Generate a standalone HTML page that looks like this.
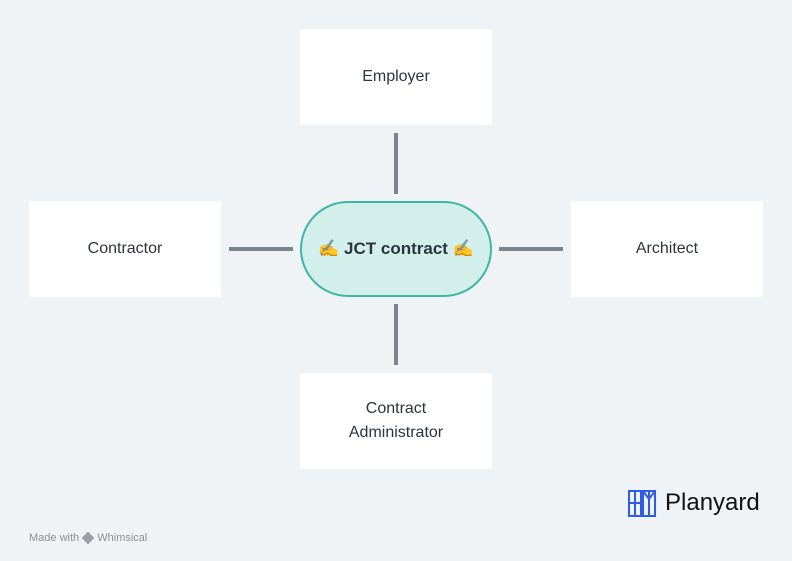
<!DOCTYPE html>
<html><head><style>
body{margin:0;width:792px;height:561px;background:#f0f3f6;position:relative;overflow:hidden;font-family:"Liberation Sans",sans-serif;color:#2c3440}
.box{position:absolute;background:#fff;display:flex;align-items:center;justify-content:center;text-align:center;font-size:16px;line-height:24px}
.l{position:absolute;background:#7a8591}
</style></head><body>
<div class="box" style="left:300px;top:29px;width:192px;height:96px">Employer</div>
<div class="box" style="left:29px;top:201px;width:192px;height:96px">Contractor</div>
<div class="box" style="left:571px;top:201px;width:192px;height:96px">Architect</div>
<div class="box" style="left:300px;top:373px;width:192px;height:96px">Contract<br>Administrator</div>
<div class="l" style="left:394px;top:133px;width:4px;height:61px"></div>
<div class="l" style="left:394px;top:304px;width:4px;height:61px"></div>
<div class="l" style="left:229px;top:247px;width:64px;height:4px"></div>
<div class="l" style="left:499px;top:247px;width:64px;height:4px"></div>
<div style="position:absolute;left:300px;top:201px;width:188px;height:92px;border:2px solid #3fb5a3;border-radius:48px;background:#d3efeb;display:flex;align-items:center;justify-content:center;font-weight:bold;font-size:17px;color:#2c3440">✍️ JCT contract ✍️</div>
<svg style="position:absolute;left:628px;top:490px" width="30" height="28" viewBox="0 0 30 28"><g fill="none" stroke="#2f5be8" stroke-width="2"><rect x="1" y="1" width="12" height="25"/><line x1="7" y1="1" x2="7" y2="26"/><line x1="1" y1="13" x2="13" y2="13"/><rect x="15" y="1" width="12" height="25"/><line x1="21" y1="1" x2="21" y2="26"/><path d="M15 1 L21 9 L27 1"/></g></svg>
<div style="position:absolute;left:665px;top:489px;font-size:24px;color:#111;">Planyard</div>
<div style="position:absolute;left:29px;top:532px;font-size:11px;color:#8a9099">Made with <span style="display:inline-block;width:12px;height:12px;background:#9aa0a8;transform:rotate(45deg) scale(0.75);vertical-align:middle"></span> Whimsical</div>
</body></html>
